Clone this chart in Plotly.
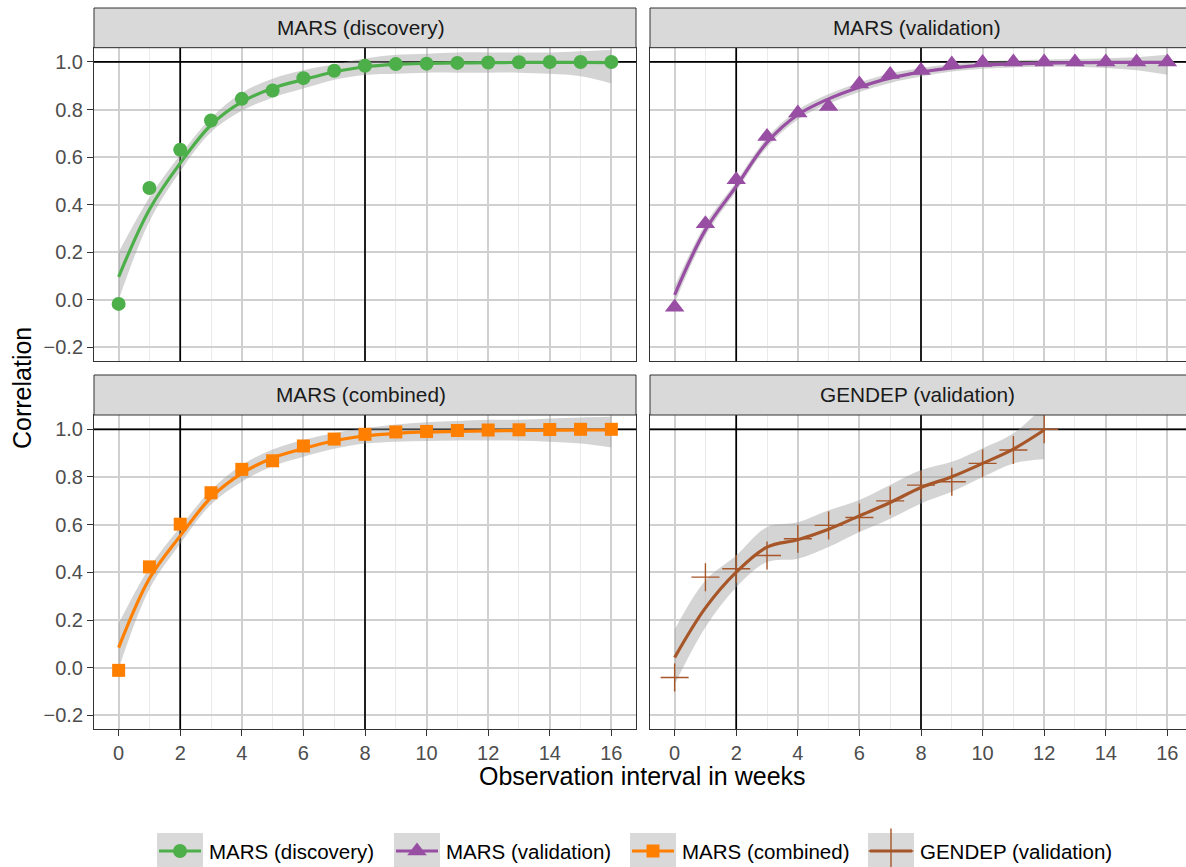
import plotly.graph_objects as go

# ---------------- data ----------------
WEEKS = list(range(17))
GENDEP_WEEKS = list(range(13))

disc_obs = [-0.017, 0.470, 0.631, 0.754, 0.845, 0.880, 0.932, 0.963, 0.984, 0.991, 0.993, 0.996, 0.998, 0.999, 1.0, 1.0, 1.0]
disc_fit = [0.097, 0.380, 0.575, 0.735, 0.832, 0.890, 0.926, 0.958, 0.980, 0.990, 0.994, 0.996, 0.997, 0.998, 0.998, 0.998, 0.997]
disc_hi = [0.200, 0.430, 0.610, 0.765, 0.870, 0.930, 0.965, 0.990, 1.015, 1.030, 1.035, 1.040, 1.040, 1.040, 1.040, 1.045, 1.050]
disc_lo = [0.000, 0.330, 0.540, 0.705, 0.795, 0.850, 0.888, 0.925, 0.945, 0.950, 0.955, 0.955, 0.955, 0.955, 0.950, 0.940, 0.910]

val_obs = [-0.031, 0.320, 0.505, 0.687, 0.785, 0.813, 0.907, 0.947, 0.964, 0.991, 0.998, 1.0, 1.0, 1.0, 1.0, 1.0, 1.0]
val_fit = [0.021, 0.294, 0.477, 0.662, 0.778, 0.845, 0.894, 0.932, 0.957, 0.975, 0.987, 0.992, 0.995, 0.997, 0.998, 0.998, 0.998]
val_hi = [0.056, 0.319, 0.497, 0.682, 0.798, 0.865, 0.914, 0.952, 0.975, 0.990, 1.002, 1.007, 1.010, 1.012, 1.016, 1.020, 1.030]
val_lo = [-0.014, 0.269, 0.457, 0.642, 0.758, 0.825, 0.874, 0.912, 0.939, 0.960, 0.972, 0.977, 0.980, 0.980, 0.975, 0.965, 0.946]

comb_obs = [-0.011, 0.423, 0.602, 0.734, 0.832, 0.868, 0.930, 0.959, 0.979, 0.989, 0.991, 0.995, 0.997, 0.998, 0.999, 1.0, 1.0]
comb_fit = [0.084, 0.374, 0.553, 0.714, 0.815, 0.880, 0.919, 0.952, 0.972, 0.983, 0.989, 0.991, 0.993, 0.995, 0.996, 0.997, 0.997]
comb_hi = [0.185, 0.420, 0.590, 0.745, 0.850, 0.915, 0.955, 0.985, 1.005, 1.020, 1.030, 1.035, 1.040, 1.040, 1.045, 1.050, 1.053]
comb_lo = [-0.005, 0.330, 0.520, 0.685, 0.780, 0.845, 0.885, 0.918, 0.940, 0.948, 0.951, 0.953, 0.953, 0.952, 0.948, 0.940, 0.924]

gendep_obs = [-0.041, 0.380, 0.415, 0.471, 0.541, 0.597, 0.630, 0.700, 0.766, 0.780, 0.857, 0.913, 1.0]
gendep_fit = [0.043, 0.251, 0.401, 0.506, 0.537, 0.581, 0.637, 0.693, 0.756, 0.801, 0.857, 0.917, 0.997]
gendep_hi = [0.160, 0.366, 0.471, 0.590, 0.610, 0.660, 0.703, 0.766, 0.829, 0.864, 0.920, 0.983, 1.100]
gendep_lo = [-0.070, 0.170, 0.338, 0.443, 0.457, 0.506, 0.569, 0.625, 0.689, 0.738, 0.800, 0.857, 0.874]

PANEL_NAMES = ["MARS (discovery)", "MARS (validation)", "MARS (combined)", "GENDEP (validation)"]
COLORS = ["#4DAF4A", "#984EA3", "#FF7F00", "#A65628"]
SYMBOLS = ["circle", "triangle-up", "square", "cross-thin"]
MSIZES = [14, 17, 13, 20]

REF_WEEKS = [2, 8]      # vertical reference lines
REF_CORR = 1.0          # horizontal reference line

X_TICKS = list(range(0, 17, 2))
Y_TICKS = [-0.2, 0.0, 0.2, 0.4, 0.6, 0.8, 1.0]

panels = [
    (WEEKS, disc_obs, disc_fit, disc_lo, disc_hi),
    (WEEKS, val_obs, val_fit, val_lo, val_hi),
    (WEEKS, comb_obs, comb_fit, comb_lo, comb_hi),
    (GENDEP_WEEKS, gendep_obs, gendep_fit, gendep_lo, gendep_hi),
]

# ---------------- layout geometry ----------------
W, H = 1186, 867
FONT = "Liberation Sans, Arial, Helvetica, sans-serif"
def fx(p):
    return p / W
def fy(p):
    return 1 - p / H

XD = [[fx(94), fx(636)], [fx(650), 1.0]]
XR = [[-0.8, 16.8], [-0.8, 16.8 - 6 / 30.8]]
YD = {0: [fy(361), fy(47.7)], 1: [fy(729), fy(415)]}   # row 0 top, row 1 bottom
STRIP = {0: [fy(47.7), fy(8)], 1: [fy(415), fy(375)]}
YR = [-0.257, 1.06]

RIBBON = "rgba(153,153,153,0.42)"
MAJOR = "#d0d0d0"
MINOR = "#ebebeb"
BORDER = "#333333"

fig = go.Figure()
layout = dict(
    width=W, height=H,
    margin=dict(l=0, r=0, t=0, b=0),
    paper_bgcolor="white", plot_bgcolor="rgba(0,0,0,0)",
    showlegend=False,
    font=dict(family=FONT, size=20, color="#4d4d4d"),
)
shapes = []
annotations = []

for i, (xs, obs, fit, lo, hi) in enumerate(panels):
    row, col = i // 2, i % 2
    sfx = "" if i == 0 else str(i + 1)
    xref, yref = "x" + sfx, "y" + sfx
    # reference lines (drawn as traces so they sit above the grid)
    for rw in REF_WEEKS:
        fig.add_trace(go.Scatter(x=[rw, rw], y=YR, mode="lines", line=dict(color="black", width=1.7),
                                 xaxis=xref, yaxis=yref, hoverinfo="skip"))
    fig.add_trace(go.Scatter(x=XR[col], y=[REF_CORR, REF_CORR], mode="lines", line=dict(color="black", width=1.7),
                             xaxis=xref, yaxis=yref, hoverinfo="skip"))
    # ribbon
    fig.add_trace(go.Scatter(x=xs, y=lo, mode="lines", line=dict(width=0, shape="spline"),
                             xaxis=xref, yaxis=yref, hoverinfo="skip"))
    fig.add_trace(go.Scatter(x=xs, y=hi, mode="lines", line=dict(width=0, shape="spline"),
                             fill="tonexty", fillcolor=RIBBON, xaxis=xref, yaxis=yref, hoverinfo="skip"))
    # smooth fit
    fig.add_trace(go.Scatter(x=xs, y=fit, mode="lines",
                             line=dict(color=COLORS[i], width=3.2, shape="spline", smoothing=1.0),
                             xaxis=xref, yaxis=yref))
    # observed points
    mk = dict(symbol=SYMBOLS[i], size=MSIZES[i], color=COLORS[i])
    if SYMBOLS[i] == "cross-thin":
        mk["line"] = dict(width=1.4, color=COLORS[i])
    else:
        mk["line"] = dict(width=0)
    fig.add_trace(go.Scatter(x=xs, y=obs, mode="markers", marker=mk,
                             xaxis=xref, yaxis=yref, name=PANEL_NAMES[i]))

    bottom = row == 1
    left = col == 0
    layout["xaxis" + sfx] = dict(
        domain=XD[col], range=XR[col], anchor=yref, fixedrange=True,
        tickmode="array", tickvals=X_TICKS, ticktext=[str(v) for v in X_TICKS],
        showgrid=True, gridcolor=MAJOR, gridwidth=2,
        minor=dict(tickmode="linear", tick0=1, dtick=2, showgrid=True, gridcolor=MINOR, gridwidth=1.3),
        zeroline=False, showline=True, linecolor=BORDER, linewidth=1, mirror=True,
        ticks="outside" if bottom else "", ticklen=6, tickwidth=1.3, tickcolor=BORDER,
        showticklabels=bottom, tickfont=dict(size=20, color="#4d4d4d", family=FONT),
    )
    layout["yaxis" + sfx] = dict(
        domain=YD[row], range=YR, anchor=xref, fixedrange=True,
        tickmode="array", tickvals=Y_TICKS, ticktext=["\u22120.2" if v < 0 else f"{v:.1f}" for v in Y_TICKS],
        showgrid=True, gridcolor=MAJOR, gridwidth=2,
        zeroline=False, showline=True, linecolor=BORDER, linewidth=1, mirror=left,
        ticks="outside" if left else "", ticklen=6, tickwidth=1.3, tickcolor=BORDER,
        showticklabels=left, tickfont=dict(size=20, color="#4d4d4d", family=FONT),
    )
    # strip
    x1 = XD[col][1] + (0.01 if col == 1 else 0)
    shapes.append(dict(type="rect", xref="paper", yref="paper", x0=XD[col][0], x1=x1,
                       y0=STRIP[row][0], y1=STRIP[row][1], fillcolor="#d9d9d9",
                       line=dict(color=BORDER, width=1)))
    center = (XD[col][0] + (fx(1192) if col == 1 else XD[col][1])) / 2 - fx(4)
    annotations.append(dict(text=PANEL_NAMES[i], xref="paper", yref="paper",
                            x=center, y=sum(STRIP[row]) / 2, showarrow=False,
                            xanchor="center", yanchor="middle",
                            font=dict(size=20.8, color="#1a1a1a", family=FONT)))

# axis titles
annotations.append(dict(text="Correlation", xref="paper", yref="paper", x=fx(22), y=fy(388),
                        textangle=-90, showarrow=False, xanchor="center", yanchor="middle",
                        font=dict(size=25, color="black", family=FONT)))
annotations.append(dict(text="Observation interval in weeks", xref="paper", yref="paper", x=fx(642), y=fy(776),
                        showarrow=False, xanchor="center", yanchor="middle",
                        font=dict(size=25, color="black", family=FONT)))

# ---------------- manual legend (overlay axis in pixel units) ----------------
LEG_BOX_LEFT = [157, 394, 630, 868]
LEG_BOX_W = 46
LEG_Y0, LEG_Y1, LEG_YC = 833, 868, 851
layout["xaxis5"] = dict(domain=[0, 1], range=[0, W], anchor="y5", visible=False, fixedrange=True)
layout["yaxis5"] = dict(domain=[0, 1], range=[H, 0], anchor="x5", visible=False, fixedrange=True)
for i, bx in enumerate(LEG_BOX_LEFT):
    shapes.append(dict(type="rect", xref="paper", yref="paper", x0=fx(bx), x1=fx(bx + LEG_BOX_W),
                       y0=fy(LEG_Y1), y1=fy(LEG_Y0),
                       fillcolor="#d9d9d9", line=dict(width=0), layer="below"))
    fig.add_trace(go.Scatter(x=[bx + 2, bx + LEG_BOX_W - 2], y=[LEG_YC, LEG_YC], mode="lines",
                             line=dict(color=COLORS[i], width=3.2), xaxis="x5", yaxis="y5", hoverinfo="skip"))
    mk = dict(symbol=SYMBOLS[i], size=MSIZES[i], color=COLORS[i])
    mk["line"] = dict(width=1.4, color=COLORS[i]) if SYMBOLS[i] == "cross-thin" else dict(width=0)
    if SYMBOLS[i] == "cross-thin":
        mk["size"] = 32
    fig.add_trace(go.Scatter(x=[bx + LEG_BOX_W / 2], y=[LEG_YC], mode="markers", marker=mk,
                             xaxis="x5", yaxis="y5", hoverinfo="skip"))
    annotations.append(dict(text=PANEL_NAMES[i], xref="x5", yref="y5", x=bx + LEG_BOX_W + 4, y=LEG_YC,
                            showarrow=False, xanchor="left", yanchor="middle",
                            font=dict(size=20.5, color="black", family=FONT)))

layout["shapes"] = shapes
layout["annotations"] = annotations
fig.update_layout(**layout)
fig.write_html("out.html")
